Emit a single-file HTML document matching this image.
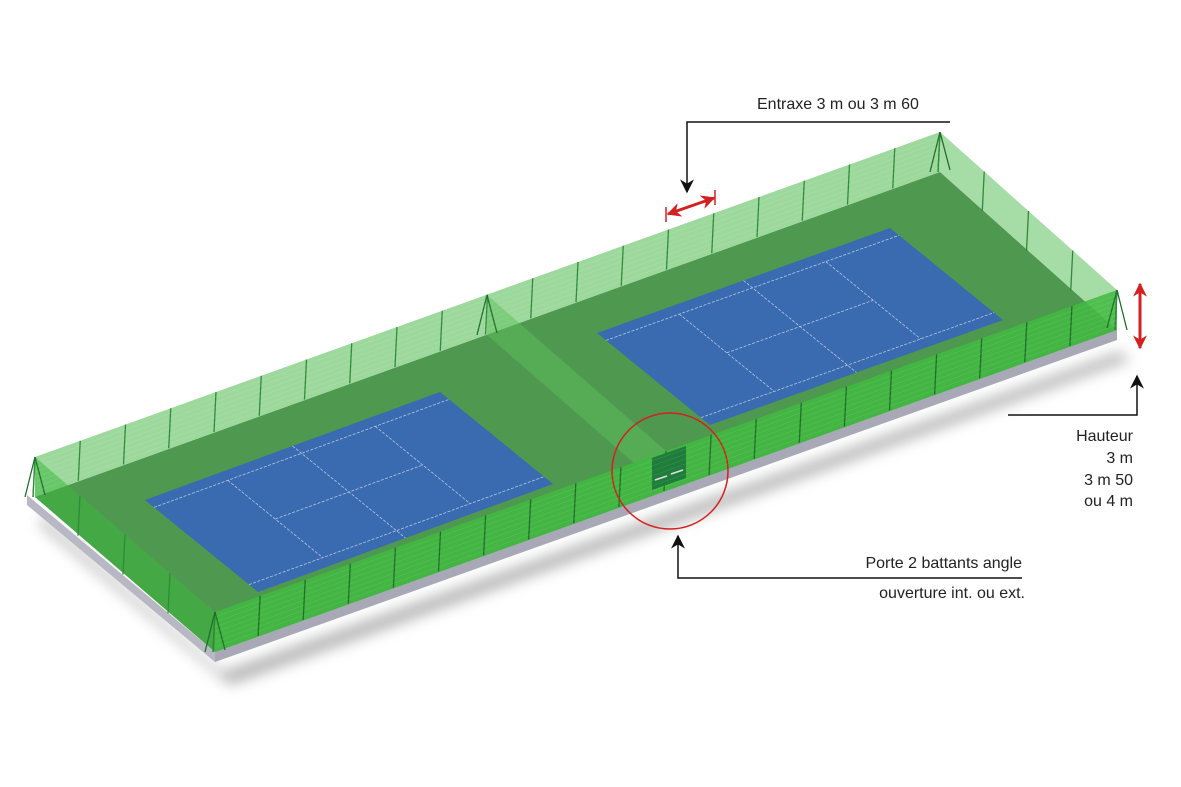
<!DOCTYPE html>
<html><head><meta charset="utf-8">
<style>
html,body{margin:0;padding:0;background:#fff;}
svg{display:block;}
text{font-family:"Liberation Sans",sans-serif;fill:#222;font-size:16px;}
</style></head>
<body>
<svg id="s" width="1181" height="787" viewBox="0 0 1181 787" xmlns="http://www.w3.org/2000/svg">
<defs>
<filter id="blur" x="-10%" y="-10%" width="120%" height="140%"><feGaussianBlur stdDeviation="7"/></filter>
<marker id="bk" viewBox="0 0 10 10" refX="9" refY="5" markerWidth="9" markerHeight="9" markerUnits="userSpaceOnUse" orient="auto-start-reverse"><path d="M0,0 L10,5 L0,10 z" fill="#111"/></marker>
<marker id="bk2" viewBox="0 0 10 10" refX="9" refY="5" markerWidth="14" markerHeight="14" markerUnits="userSpaceOnUse" orient="auto-start-reverse"><path d="M0,0 L10,5 L0,10 L3,5 z" fill="#111"/></marker>
<marker id="rd" viewBox="0 0 10 10" refX="9" refY="5" markerWidth="14" markerHeight="14" markerUnits="userSpaceOnUse" orient="auto-start-reverse"><path d="M0,0 L10,5 L0,10 L3,5 z" fill="#d42020"/></marker>
</defs>
<polygon points="40,515 222,672 1120,352 1130,360 230,685 40,525" fill="#777" opacity="0.55" filter="url(#blur)"/>
<polygon points="27,495 215,652 215,662 27,505" fill="#b8b8c4"/>
<polygon points="215,652 1117,330 1117,340 215,662" fill="#a8a8b6"/>
<polygon points="35,497 940,172 1117,330 215,652" fill="#4f984f"/>
<polygon points="35,457 940,132 940,172 35,497" fill="#5cc05c" opacity="0.6"/>
<polygon points="35,457 215,612 215,652 35,497" fill="#3cb83c" opacity="0.55"/>
<polygon points="940,132 1117,290 1117,330 940,172" fill="#5cc05c" opacity="0.55"/>
<g id="courts"></g>
<polygon points="487,295 666,451 666,491 487,335" fill="#5cc05c" opacity="0.5"/>
<polygon points="215,612 1117,290 1117,330 215,652" fill="#3fba3f" opacity="0.85"/>
<g id="posts" stroke="#1f6e2a" stroke-width="1.3"></g>
<polygon points="652,458 686,446 686,478 652,490" fill="#1e7d3a"/>
<line x1="655" y1="480" x2="667" y2="476" stroke="#ddd" stroke-width="1.5"/>
<line x1="671" y1="474" x2="683" y2="470" stroke="#ddd" stroke-width="1.5"/>
<circle cx="670" cy="471" r="58" fill="none" stroke="#d42020" stroke-width="1.5"/>
<polyline points="950,122 687,122 687,192" fill="none" stroke="#111" stroke-width="1.5" marker-end="url(#bk2)"/>
<text x="757" y="109">Entraxe 3 m ou 3 m 60</text>
<line x1="668" y1="214" x2="714" y2="198" stroke="#d42020" stroke-width="3" marker-start="url(#rd)" marker-end="url(#rd)"/>
<line x1="666" y1="207" x2="666" y2="222" stroke="#d42020" stroke-width="1.5"/>
<line x1="715" y1="190" x2="715" y2="205" stroke="#d42020" stroke-width="1.5"/>
<line x1="1140" y1="284" x2="1140" y2="348" stroke="#d42020" stroke-width="3" marker-start="url(#rd)" marker-end="url(#rd)"/>
<polyline points="1008,415 1137,415 1137,376" fill="none" stroke="#111" stroke-width="1.5" marker-end="url(#bk2)"/>
<text x="1133" y="441" text-anchor="end">Hauteur</text>
<text x="1133" y="463" text-anchor="end">3 m</text>
<text x="1133" y="485" text-anchor="end">3 m 50</text>
<text x="1133" y="506" text-anchor="end">ou 4 m</text>
<polyline points="1022,578 678,578 678,536" fill="none" stroke="#111" stroke-width="1.5" marker-end="url(#bk2)"/>
<text x="1022" y="568" text-anchor="end">Porte 2 battants angle</text>
<text x="1025" y="598" text-anchor="end">ouverture int. ou ext.</text>
</svg>
<script>
var NS="http://www.w3.org/2000/svg";
function el(p,t,a){var e=document.createElementNS(NS,t);for(var k in a)e.setAttribute(k,a[k]);p.appendChild(e);return e;}
var C=document.getElementById("courts");
function court(P,U,V){
 function pt(u,v){return [P[0]+U[0]*u+V[0]*v,P[1]+U[1]*u+V[1]*v];}
 var q=[pt(0,0),pt(1,0),pt(1,1),pt(0,1)];
 el(C,"polygon",{points:q.map(function(a){return a.join(",")}).join(" "),fill:"#3a6aaf"});
 var L=[[0,.08,1,.08],[0,.92,1,.92],[.25,.08,.25,.92],[.75,.08,.75,.92],[.25,.5,.75,.5],[.5,0,.5,1]];
 L.forEach(function(l){var a=pt(l[0],l[1]),b=pt(l[2],l[3]);
  el(C,"line",{x1:a[0],y1:a[1],x2:b[0],y2:b[1],stroke:"#b8c6e0","stroke-width":0.8,"stroke-dasharray":"3,1.5"});});
}
court([145,500],[295,-108],[113,92]);
court([597,333],[293,-105],[113,92]);
var G=document.getElementById("posts");
function posts(x1,y1,x2,y2,n,col){for(var i=0;i<=n;i++){var t=i/n,x=x1+(x2-x1)*t,y=y1+(y2-y1)*t;
 el(G,"line",{x1:x,y1:y,x2:x-2,y2:y+40,stroke:col||"#1f6e2a"});}}
posts(35,457,940,132,20,"#2f8a3a");
posts(215,612,1117,290,20);
posts(35,457,215,612,4,"#2f8a3a");
posts(940,132,1117,290,4,"#2f8a3a");
[[35,457,1],[215,612,1],[487,295,1],[940,132,1],[1117,290,-1]].forEach(function(c){
 el(G,"line",{x1:c[0],y1:c[1],x2:c[0]-10*c[2],y2:c[1]+40});
 el(G,"line",{x1:c[0],y1:c[1],x2:c[0]+10*c[2],y2:c[1]+38});
});
var g2=el(document.getElementById("s"),"g",{stroke:"#ffffff","stroke-width":0.5,opacity:0.15});
for(var k=1;k<8;k++){var d=k*5;
 el(g2,"line",{x1:35,y1:457+d,x2:940,y2:132+d});
 el(g2,"line",{x1:215,y1:612+d,x2:1117,y2:290+d});}
</script>
</body></html>
